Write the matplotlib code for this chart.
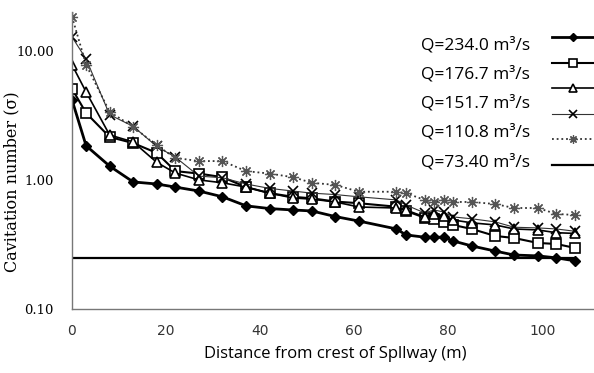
import numpy as np
import matplotlib.pyplot as plt
from matplotlib.lines import Line2D

# distance from crest (m), shared by all series
dist = [0, 3, 8, 13, 18, 22, 27, 32, 37, 42, 47, 51, 56, 61,
        69, 71, 75, 77, 79, 81, 85, 90, 94, 99, 103, 107]

q234 = [4.17, 1.84, 1.28, 0.965, 0.93, 0.88, 0.82, 0.74, 0.63, 0.60, 0.585, 0.575, 0.52, 0.48,
        0.417, 0.375, 0.36, 0.36, 0.36, 0.337, 0.308, 0.281, 0.262, 0.258, 0.249, 0.236]
q1767 = [5.08, 3.3, 2.15, 1.93, 1.62, 1.17, 1.12, 1.05, 0.88, 0.79, 0.74, 0.72, 0.68, 0.66,
         0.62, 0.575, 0.51, 0.50, 0.473, 0.448, 0.417, 0.368, 0.355, 0.325, 0.319, 0.297]
q1517 = [7.8, 4.8, 2.23, 1.97, 1.37, 1.13, 1.0, 0.95, 0.88, 0.79, 0.725, 0.71, 0.675, 0.617,
         0.606, 0.585, 0.517, 0.545, 0.526, 0.49, 0.465, 0.448, 0.417, 0.41, 0.39, 0.385]
q1108 = [12.8, 8.66, 3.2, 2.6, 1.82, 1.5, 1.07, 1.04, 0.93, 0.86, 0.82, 0.79, 0.77, 0.74,
         0.70, 0.64, 0.555, 0.585, 0.565, 0.517, 0.50, 0.473, 0.43, 0.425, 0.417, 0.40]
q734 = [18.4, 7.8, 3.37, 2.58, 1.85, 1.48, 1.40, 1.40, 1.17, 1.12, 1.05, 0.95, 0.915, 0.81,
        0.81, 0.79, 0.70, 0.675, 0.70, 0.675, 0.675, 0.65, 0.606, 0.606, 0.545, 0.535]
crit = [0.25] * len(dist)

labels = ["Q=234.0 m³/s", "Q=176.7 m³/s", "Q=151.7 m³/s", "Q=110.8 m³/s", "Q=73.40 m³/s"]

styles = [
    dict(color="black", lw=2.0, marker="D", ms=5, mfc="black", mec="black"),
    dict(color="black", lw=1.5, marker="s", ms=7, mfc="white", mec="black", mew=1.2),
    dict(color="black", lw=1.2, marker="^", ms=7, mfc="white", mec="black", mew=1.2),
    dict(color="#333333", lw=0.8, marker="x", ms=7, mec="black", mew=1.2),
    dict(color="#333333", lw=1.3, ls=(0, (1, 1.6)), marker=(8, 2, 0), ms=8, mec="#555555", mew=0.9),
    dict(color="black", lw=1.6),
]
series = [q234, q1767, q1517, q1108, q734, crit]

fig = plt.figure(figsize=(5.94, 3.73), dpi=100)
ax = fig.add_axes([72 / 594, 1 - 309 / 373, 1 - 72 / 594, (309 - 12) / 373])

for s, st in zip(series, styles):
    ax.plot(dist, s, **st)

ax.set_yscale("log")
ax.set_ylim(0.1, 20)
ax.set_xlim(0, 111)
ax.set_yticks([0.1, 1, 10])
ax.set_yticklabels(["0.10", "1.00", "10.00"], family="DejaVu Serif", fontsize=9.5)
ax.yaxis.set_minor_locator(plt.NullLocator())
ax.set_xticks([0, 20, 40, 60, 80, 100])
ax.set_xticklabels(["0", "20", "40", "60", "80", "100"], family="DejaVu Sans", fontsize=10, color="#333333")
ax.tick_params(length=0)
ax.tick_params(axis="y", pad=13)
ax.tick_params(axis="x", pad=11)
for side in ["top", "right"]:
    ax.spines[side].set_visible(False)
for side in ["left", "bottom"]:
    ax.spines[side].set_color("#777777")
    ax.spines[side].set_linewidth(1.0)

ax.set_ylabel("Cavitation number (σ)", family="DejaVu Serif", fontsize=11.5)
ax.yaxis.set_label_coords(-0.098, 0.43)
ax.set_xlabel("Distance from crest of Spllway (m)", family="Open Sans", fontsize=12)
ax.xaxis.set_label_coords(0.505, -0.125)

# legend-like keys on the right edge
for i, st in enumerate(styles):
    y = 1 - (37 + i * 25.6) / 373
    key = {k: v for k, v in st.items() if k != "ms"}
    key["ms"] = st.get("ms", 0) * 0.75
    fig.add_artist(Line2D([552 / 594, 573 / 594, 1.0], [y, y, y], transform=fig.transFigure,
                          markevery=[1], **key))
for i, lab in enumerate(labels):
    y = 1 - (45 + i * 29.2) / 373
    fig.text(530 / 594, y, lab, ha="right", va="center", family="Open Sans", fontsize=12.5)

fig.savefig("out.png", dpi=100)
